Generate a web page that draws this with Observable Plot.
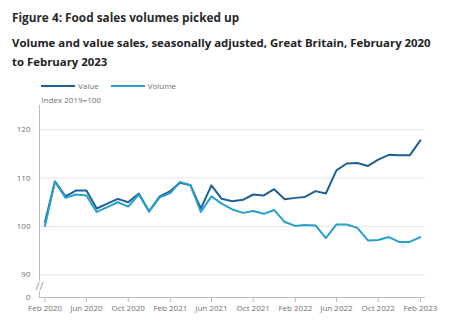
<!DOCTYPE html>
<html>
<head>
<meta charset="utf-8">
<script src="https://cdn.jsdelivr.net/npm/d3@7"></script>
<script src="https://cdn.jsdelivr.net/npm/@observablehq/plot@0.6"></script>
<style>
  html, body { margin: 0; padding: 0; background: #fff; }
  body { width: 465px; height: 321px; position: relative; overflow: hidden; font-family: "Open Sans", sans-serif; }
  #title { position: absolute; left: 12px; top: 7px; font-size: 11.8px; line-height: 20px; font-weight: 700; color: #2a2a2a; white-space: nowrap; }
  #subtitle { position: absolute; left: 12px; top: 33px; font-size: 11.4px; line-height: 19px; font-weight: 700; color: #222; white-space: nowrap; }
  #legend { position: absolute; left: 41px; top: 80px; font-size: 8px; line-height: 12px; color: #707070; display: flex; align-items: center; }
  .sw { display: inline-block; width: 34px; height: 0; border-top: 2px solid; margin-right: 3px; }
  .lab { margin-right: 12px; }
  #chart { position: absolute; left: 0; top: 92px; }
</style>
</head>
<body>
<div id="title">Figure 4: Food sales volumes picked up</div>
<div id="subtitle">Volume and value sales, seasonally adjusted, Great Britain, February 2020<br>to February 2023</div>
<div id="legend"></div>
<div id="chart"></div>
<script>
const months = [
  "2020-02","2020-03","2020-04","2020-05","2020-06","2020-07","2020-08","2020-09","2020-10","2020-11","2020-12",
  "2021-01","2021-02","2021-03","2021-04","2021-05","2021-06","2021-07","2021-08","2021-09","2021-10","2021-11","2021-12",
  "2022-01","2022-02","2022-03","2022-04","2022-05","2022-06","2022-07","2022-08","2022-09","2022-10","2022-11","2022-12",
  "2023-01","2023-02"
];
const valueSeries = [
  100.9, 109.3, 106.2, 107.4, 107.4, 103.7, 104.7, 105.7, 105.0, 106.8, 103.1,
  106.2, 107.3, 109.0, 108.5, 103.7, 108.5, 105.7, 105.2, 105.5, 106.6, 106.4, 107.7,
  105.6, 105.9, 106.1, 107.3, 106.8, 111.6, 113.0, 113.1, 112.5, 113.8, 114.8, 114.7,
  114.7, 117.8
];
const volumeSeries = [
  100.1, 109.3, 105.9, 106.6, 106.4, 103.0, 104.0, 105.0, 104.1, 106.6, 103.1,
  106.0, 106.9, 109.2, 108.5, 103.0, 106.2, 104.7, 103.5, 102.8, 103.2, 102.6, 103.4,
  100.9, 100.1, 100.3, 100.2, 97.6, 100.4, 100.4, 99.7, 97.1, 97.2, 97.8, 96.8,
  96.8, 97.8
];
const seriesNames = ["Value", "Volume"];
const seriesColors = ["#206095", "#27a0cc"];
const yTickValues = [90, 100, 110, 120];
const xTickLabels = ["Feb 2020","Jun 2020","Oct 2020","Feb 2021","Jun 2021","Oct 2021","Feb 2022","Jun 2022","Oct 2022","Feb 2023"];
const yLabel = "Index 2019=100";
const axisBreakValue = 85.3; // bottom of the broken axis, labelled 0
const zeroLabel = "0";

const parse = d3.utcParse("%Y-%m");
const fmt = d3.utcFormat("%b %Y");
const data = [];
months.forEach((m, i) => {
  data.push({date: parse(m), value: valueSeries[i], series: seriesNames[0]});
  data.push({date: parse(m), value: volumeSeries[i], series: seriesNames[1]});
});
const xTicks = xTickLabels.map(s => d3.utcParse("%b %Y")(s));
const x0 = d3.utcDay.offset(parse(months[0]), -16);
const x1 = d3.utcDay.offset(parse(months[months.length - 1]), 15);

// legend
const legend = document.getElementById("legend");
seriesNames.forEach((n, i) => {
  const sw = document.createElement("span");
  sw.className = "sw"; sw.style.borderTopColor = seriesColors[i];
  const lab = document.createElement("span");
  lab.className = "lab"; lab.textContent = n;
  legend.appendChild(sw); legend.appendChild(lab);
});

const gray = "#707070";
const chart = Plot.plot({
  width: 465,
  height: 229,
  marginLeft: 39,
  marginRight: 40,
  marginTop: 13,
  marginBottom: 24,
  style: {fontFamily: "Open Sans, sans-serif", fontSize: "8px", color: gray, background: "#fff"},
  x: {type: "utc", domain: [x0, x1]},
  y: {domain: [axisBreakValue, 125]},
  color: {domain: seriesNames, range: seriesColors},
  marks: [
    Plot.gridY(yTickValues, {stroke: "#e6e6e6", strokeOpacity: 1, strokeWidth: 1}),
    Plot.axisY([axisBreakValue, ...yTickValues], {
      tickSize: 0, tickPadding: 9, fill: gray,
      tickFormat: d => d === axisBreakValue ? zeroLabel : d,
      label: null
    }),
    Plot.text([yLabel], {frameAnchor: "top-left", dx: 2, dy: -8, fill: gray, textAnchor: "start"}),
    Plot.axisX(xTicks, {tickSize: 5, tickPadding: 3, stroke: "#bbb", fill: gray, tickFormat: fmt, label: null}),
    Plot.ruleY([axisBreakValue], {stroke: "#bbb"}),
    Plot.ruleX([x0], {stroke: "#bbb"}),
    Plot.text(["//"], {x: x0, y: 87.6, fill: "#999", stroke: "#fff", strokeWidth: 3, fontSize: 11, fontWeight: 400}),
    Plot.line(data, {x: "date", y: "value", stroke: "series", z: "series", strokeWidth: 2})
  ]
});
document.getElementById("chart").appendChild(chart);
</script>
</body>
</html>
